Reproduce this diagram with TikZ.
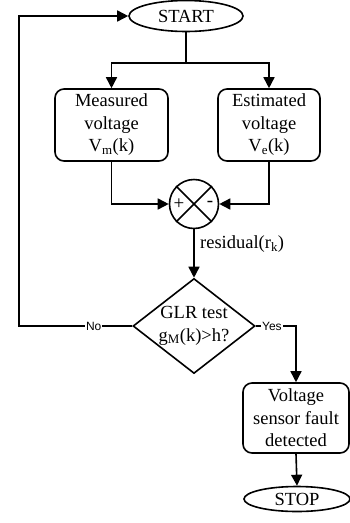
\documentclass[tikz,border=0pt]{standalone}
\usepackage{fontspec}
\setmainfont{Liberation Serif}
\newfontfamily\labelsans{Liberation Sans}
\usetikzlibrary{shapes.geometric,arrows.meta,positioning,calc}

\begin{document}
\begin{tikzpicture}[x=1pt,y=-1pt,
        line width=1.6pt,
        every node/.style={font=\fontsize{18.5}{22.5}\selectfont},
        terminal/.style={draw, ellipse, inner sep=0pt},
        process/.style={draw, rounded corners=9pt, align=center, inner sep=0pt},
        decision/.style={draw, diamond, inner sep=0pt, minimum width=122pt, minimum height=95pt, aspect=1.28},
        arr/.style={-{Triangle[length=11pt,width=11pt]}},
        yn/.style={fill=white, inner sep=1pt, font=\labelsans\fontsize{12}{12}\selectfont}]
        \useasboundingbox (0,0) rectangle (350,523);

        % Start and stop
        \node[terminal, minimum width=114pt, minimum height=31pt] (start) at (186,16) {START};
        \node[terminal, minimum width=106pt, minimum height=25pt] (stop) at (297,499) {STOP};

        % Voltage boxes
        \node[process, minimum width=113pt, minimum height=72pt] (meas) at (111.5,125) {Measured\\voltage\\V\textsubscript{m}(k)};
        \node[process, minimum width=102pt, minimum height=72pt] (est) at (269,125) {Estimated\\voltage\\V\textsubscript{e}(k)};

        % Summing junction
        \node[draw, circle, minimum size=49pt, inner sep=0pt] (sum) at (194,204) {};
        \draw (sum.north west) -- (sum.south east);
        \draw (sum.north east) -- (sum.south west);
        \node[font=\fontsize{19}{19}\selectfont] (plus) at ($(sum.center)+(-15,0)$) {+};
        \node[font=\fontsize{19}{19}\selectfont] (minus) at ($(sum.center)+(16,0)$) {-};

        % GLR test
        \node[decision] (glr) at (194,326) {};
        \node[align=center, inner sep=0pt] (glrtext) at (glr.center) {GLR test\\g\textsubscript{M}(k)>h?};

        % Fault box
        \node[process, minimum width=106pt, minimum height=70pt] (fault) at (296,418) {Voltage\\sensor fault\\detected};

        % Helper points
        \coordinate (split) at (186,63);
        \coordinate (back) at (19,326);

        % Connectors
        \draw (start.south) -- (split);
        \draw[arr] (split) -| (meas.north);
        \draw[arr] (split) -| (est.north);
        \draw[arr] (meas.south) |- (sum.west);
        \draw[arr] (est.south) |- (sum.east);
        \draw[arr] (sum.south) -- node[pos=0.3, right=2pt] {residual(r\textsubscript{k})} (glr.north);
        \draw[arr] (glr.west) -- node[yn, pos=0.34] {No} (back) |- (start.west);
        \draw[arr] (glr.east) -- node[yn, pos=0.4] {Yes} (glr.east -| fault.north) -- (fault.north);
        \draw[arr] (fault.south) -- (stop.north);
    \end{tikzpicture}
\end{document}
